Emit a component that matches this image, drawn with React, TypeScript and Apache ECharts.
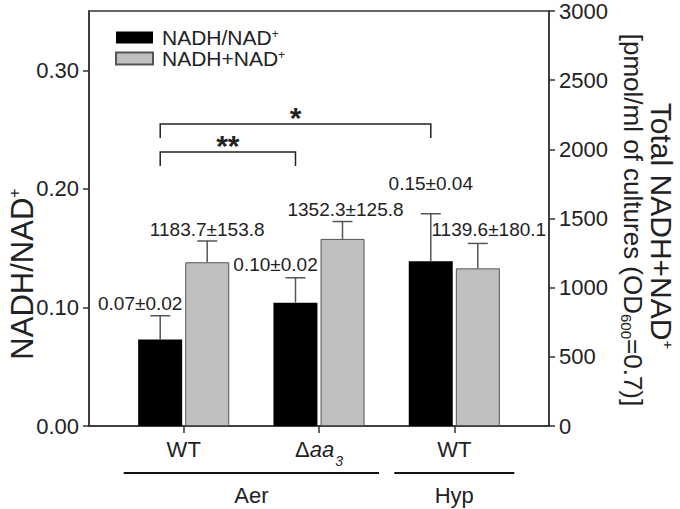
import React, { useEffect, useRef } from 'react';
import * as echarts from 'echarts';

// ---------- data ----------
const categories = ['WT', 'Δaa3', 'WT'];
const ratioMean = [0.073, 0.104, 0.139];
const ratioErr = [0.02, 0.021, 0.04];
const totalMean = [1183.7, 1352.3, 1139.6];
const totalErr = [153.8, 125.8, 180.1];
const ratioText = ['0.07±0.02', '0.10±0.02', '0.15±0.04'];
const totalText = ['1183.7±153.8', '1352.3±125.8', '1139.6±180.1'];
const leftTicks = [0, 0.1, 0.2, 0.3];
const rightTicks = [0, 500, 1000, 1500, 2000, 2500, 3000];
const groupNames = ['Aer', 'Hyp'];
const groupFirst = [0, 2];
const groupLast = [1, 2];
const sigMarks = ['**', '*'];
const sigFrom = [0, 0];
const sigTo = [1, 2];
const sigLevel = [0.231, 0.2546];
const seriesNames = ['NADH/NAD+', 'NADH+NAD+'];

// ---------- styles ----------
const FONT = "'Liberation Sans', Arial, Helvetica, sans-serif";
const TEXT = '#222';
const AXIS = '#333';
const ERR = '#555';
const BAR_W = 44;
const BAR_SHIFT = 23.5;
const ratioLabelShift = [[-20, -12], [-20, -13], [0, -30]];
const totalLabelShift = [[0, -11], [3, -12], [11, -14]];

function catLabel(v: number) {
  const name = categories[Math.round(v)];
  if (name === 'Δaa3') return '{n|Δ}{i|aa}{sub|3}';
  return '{n|' + name + '}';
}

function errorRenderer(texts: string[], shifts: number[][], side: number) {
  return (params: any, api: any) => {
    const i = api.value(0);
    const m = api.value(1);
    const e = api.value(2);
    const p0 = api.coord([i, m]);
    const p1 = api.coord([i, m + e]);
    const x = p0[0] + side * BAR_SHIFT;
    const idx = params.dataIndex;
    const [dx, dy] = shifts[idx];
    return {
      type: 'group',
      children: [
        { type: 'line', shape: { x1: x, y1: p0[1], x2: x, y2: p1[1] }, style: { stroke: ERR, lineWidth: 1.5 } },
        { type: 'line', shape: { x1: x - 10, y1: p1[1], x2: x + 10, y2: p1[1] }, style: { stroke: ERR, lineWidth: 1.5 } },
        {
          type: 'text',
          x: x + dx,
          y: p1[1] + dy,
          style: { text: texts[idx], fill: TEXT, fontSize: 19, fontFamily: FONT, align: 'center', verticalAlign: 'middle' },
        },
      ],
    };
  };
}

export default function App() {
  const ref = useRef<HTMLDivElement>(null);
  useEffect(() => {
    if (!ref.current) return;
    const chart = echarts.init(ref.current, undefined, { renderer: 'svg' });
    const option: any = {
      animation: false,
      backgroundColor: '#fff',
      textStyle: { fontFamily: FONT },
      grid: { left: 89, right: 131, top: 10, bottom: 83, show: true, borderColor: AXIS, borderWidth: 1.5, backgroundColor: 'transparent' },
      legend: {
        data: seriesNames,
        orient: 'vertical',
        left: 115,
        top: 27,
        padding: 0,
        itemWidth: 37,
        itemHeight: 12,
        itemGap: 0,
        icon: 'rect',
        selectedMode: false,
        formatter: (name: string) => name.slice(0, -1) + '{sup|+}',
        textStyle: {
          fontSize: 21,
          lineHeight: 20,
          color: TEXT,
          fontFamily: FONT,
          padding: [0, 0, 0, 4],
          rich: { sup: { fontSize: 12, lineHeight: 12, verticalAlign: 'top', color: TEXT, fontFamily: FONT } },
        },
      },
      xAxis: {
        type: 'value',
        min: -0.7,
        max: 2.7,
        splitLine: { show: false },
        axisLine: { show: true, onZero: false, lineStyle: { color: AXIS, width: 1.5 } },
        axisTick: { show: true, customValues: [0, 1, 2], length: 7, lineStyle: { color: AXIS, width: 1.5 } },
        axisLabel: {
          customValues: [0, 1, 2],
          margin: 12,
          formatter: catLabel,
          color: TEXT,
          rich: {
            n: { fontSize: 22, lineHeight: 22, verticalAlign: 'top', color: TEXT, fontFamily: FONT },
            i: { fontSize: 22, lineHeight: 22, verticalAlign: 'top', fontStyle: 'italic', color: TEXT, fontFamily: FONT },
            sub: { fontSize: 14, padding: [16, 0, 0, 1], verticalAlign: 'top', fontStyle: 'italic', color: TEXT, fontFamily: FONT },
          },
        },
      },
      yAxis: [
        {
          type: 'value',
          position: 'left',
          min: 0,
          max: 0.35,
          splitLine: { show: false },
          axisLine: { show: true, onZero: false, lineStyle: { color: AXIS, width: 1.5 } },
          axisTick: { show: true, customValues: leftTicks, length: 6, lineStyle: { color: AXIS, width: 1.5 } },
          axisLabel: { customValues: leftTicks, formatter: (v: number) => v.toFixed(2), fontSize: 22, color: TEXT, margin: 10, fontFamily: FONT },
        },
        {
          type: 'value',
          position: 'right',
          min: 0,
          max: 3000,
          interval: 500,
          splitLine: { show: false },
          axisLine: { show: true, onZero: false, lineStyle: { color: AXIS, width: 1.5 } },
          axisTick: { show: true, length: 6, lineStyle: { color: AXIS, width: 1.5 } },
          axisLabel: { customValues: rightTicks, formatter: (v: number) => String(v), fontSize: 22, color: TEXT, margin: 10, fontFamily: FONT },
        },
      ],
      graphic: [
        {
          type: 'text',
          x: 22,
          y: 274,
          rotation: Math.PI / 2,
          style: {
            text: 'NADH/NAD{sup|+}',
            fontSize: 31,
            fontFamily: FONT,
            fill: TEXT,
            align: 'center',
            verticalAlign: 'middle',
            rich: { sup: { fontSize: 16, lineHeight: 16, verticalAlign: 'top', fill: TEXT, fontFamily: FONT } },
          },
        },
        {
          type: 'text',
          x: 661,
          y: 226,
          rotation: -Math.PI / 2,
          style: {
            text: 'Total NADH+NAD{sup|+}',
            fontSize: 30,
            fontFamily: FONT,
            fill: TEXT,
            align: 'center',
            verticalAlign: 'middle',
            rich: { sup: { fontSize: 15, lineHeight: 15, verticalAlign: 'top', fill: TEXT, fontFamily: FONT } },
          },
        },
        {
          type: 'text',
          x: 633,
          y: 220,
          rotation: -Math.PI / 2,
          style: {
            text: '[pmol/ml of cultures (OD{sub|600}=0.7)]',
            fontSize: 26,
            fontFamily: FONT,
            fill: TEXT,
            align: 'center',
            verticalAlign: 'middle',
            rich: { sub: { fontSize: 15, padding: [14, 0, 0, 0], fill: TEXT, fontFamily: FONT } },
          },
        },
      ],
      series: [
        {
          name: seriesNames[0],
          type: 'bar',
          yAxisIndex: 0,
          barWidth: BAR_W,
          barGap: '7%',
          itemStyle: { color: '#000', borderColor: '#000', borderWidth: 0 },
          data: categories.map((_, i) => [i, ratioMean[i]]),
        },
        {
          name: seriesNames[1],
          type: 'bar',
          yAxisIndex: 1,
          barWidth: BAR_W,
          barGap: '7%',
          itemStyle: { color: '#c0c0c0', borderColor: '#555', borderWidth: 1 },
          data: categories.map((_, i) => [i, totalMean[i]]),
        },
        {
          type: 'custom',
          yAxisIndex: 0,
          clip: false,
          encode: { x: 0, y: 1 },
          renderItem: errorRenderer(ratioText, ratioLabelShift, -1),
          data: categories.map((_, i) => [i, ratioMean[i], ratioErr[i]]),
          z: 5,
        },
        {
          type: 'custom',
          yAxisIndex: 1,
          clip: false,
          encode: { x: 0, y: 1 },
          renderItem: errorRenderer(totalText, totalLabelShift, 1),
          data: categories.map((_, i) => [i, totalMean[i], totalErr[i]]),
          z: 5,
        },
        {
          type: 'custom',
          yAxisIndex: 0,
          clip: false,
          encode: { x: 0, y: 2 },
          data: sigMarks.map((_, k) => [sigFrom[k], sigTo[k], sigLevel[k]]),
          renderItem: (params: any, api: any) => {
            const a = api.coord([api.value(0), api.value(2)]);
            const b = api.coord([api.value(1), api.value(2)]);
            const xa = a[0] - BAR_SHIFT;
            const xb = b[0] - BAR_SHIFT;
            const y = a[1];
            return {
              type: 'group',
              children: [
                { type: 'polyline', shape: { points: [[xa, y + 14], [xa, y], [xb, y], [xb, y + 14]] }, style: { stroke: '#222', lineWidth: 1.5, fill: 'none' } },
                {
                  type: 'text',
                  x: (xa + xb) / 2,
                  y: y - 22,
                  style: { text: sigMarks[params.dataIndex], fill: TEXT, fontSize: 30, fontWeight: 'bold', fontFamily: FONT, align: 'center', verticalAlign: 'top' },
                },
              ],
            };
          },
          z: 5,
        },
        {
          type: 'custom',
          yAxisIndex: 0,
          clip: false,
          encode: { x: 0, y: 2 },
          data: groupNames.map((_, k) => [groupFirst[k], groupLast[k], 0]),
          renderItem: (params: any, api: any) => {
            const a = api.coord([api.value(0), 0]);
            const b = api.coord([api.value(1), 0]);
            const xa = a[0] - 60;
            const xb = b[0] + 60;
            const y = a[1] + 47;
            return {
              type: 'group',
              children: [
                { type: 'line', shape: { x1: xa, y1: y, x2: xb, y2: y }, style: { stroke: '#111', lineWidth: 2 } },
                {
                  type: 'text',
                  x: (xa + xb) / 2,
                  y: y + 22,
                  style: { text: groupNames[params.dataIndex], fill: TEXT, fontSize: 22, fontFamily: FONT, align: 'center', verticalAlign: 'middle' },
                },
              ],
            };
          },
          z: 5,
        },
      ],
    };
    chart.setOption(option);
    return () => chart.dispose();
  }, []);
  return <div ref={ref} style={{ position: 'fixed', left: 0, top: 0, width: 680, height: 509 }} />;
}
